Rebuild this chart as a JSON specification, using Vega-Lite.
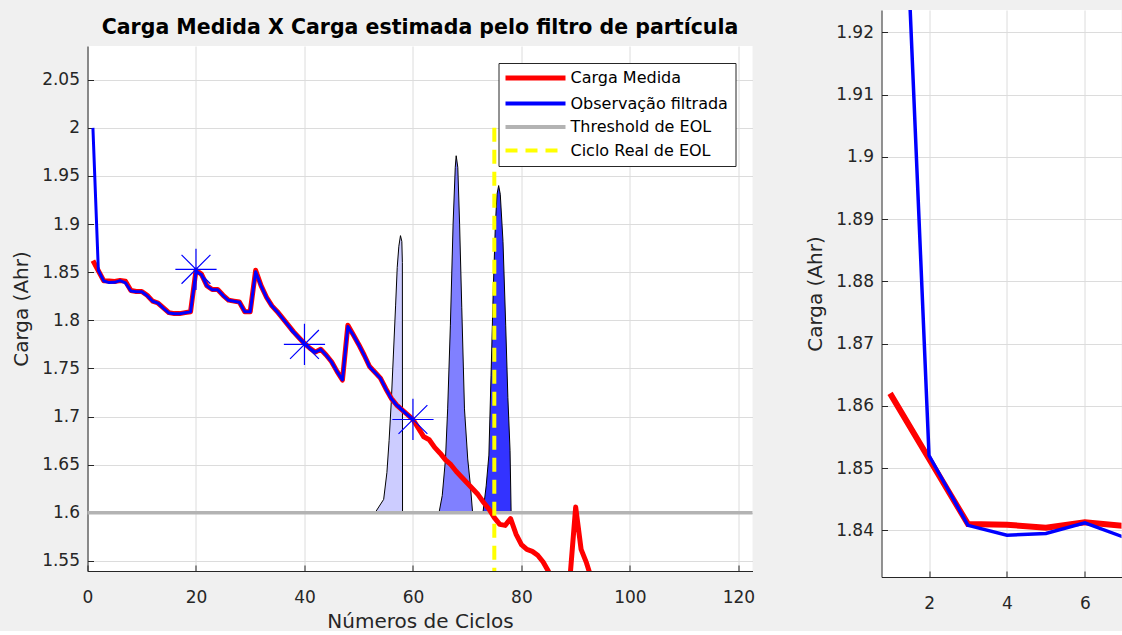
{
  "$schema": "https://vega.github.io/schema/vega-lite/v6.json",
  "background": "#f0f0f0",
  "padding": {"left": 11.5, "top": 10, "right": 0, "bottom": 0},
  "spacing": 50,
  "config": {
    "font": "DejaVu Sans",
    "view": {"fill": "white", "stroke": null},
    "axis": {
      "domainColor": "#262626", "tickColor": "#262626", "gridColor": "#dcdcdc",
      "labelColor": "#262626", "titleColor": "#262626",
      "labelFont": "DejaVu Sans", "titleFont": "DejaVu Sans",
      "labelFontSize": 17, "titleFontSize": 20, "titleFontWeight": "normal",
      "tickSize": -6, "domainWidth": 1, "gridWidth": 1,
      "labelFlush": false, "labelOverlap": false
    },
    "axisX": {"labelPadding": 24, "titlePadding": 6},
    "axisY": {"labelPadding": 14, "titlePadding": 10}
  },
  "datasets": {
    "medida": [
      {"ciclo": 1, "carga": 1.862}, {"ciclo": 2, "carga": 1.8515}, {"ciclo": 3, "carga": 1.841}, {"ciclo": 4, "carga": 1.8409}, {"ciclo": 5, "carga": 1.8404},
      {"ciclo": 6, "carga": 1.8413}, {"ciclo": 7, "carga": 1.8407}, {"ciclo": 8, "carga": 1.831}, {"ciclo": 9, "carga": 1.830}, {"ciclo": 10, "carga": 1.830},
      {"ciclo": 11, "carga": 1.826}, {"ciclo": 12, "carga": 1.820}, {"ciclo": 13, "carga": 1.818}, {"ciclo": 14, "carga": 1.813}, {"ciclo": 15, "carga": 1.808},
      {"ciclo": 16, "carga": 1.807}, {"ciclo": 17, "carga": 1.807}, {"ciclo": 18, "carga": 1.808}, {"ciclo": 19, "carga": 1.809}, {"ciclo": 20, "carga": 1.852},
      {"ciclo": 21, "carga": 1.848}, {"ciclo": 22, "carga": 1.836}, {"ciclo": 23, "carga": 1.832}, {"ciclo": 24, "carga": 1.832}, {"ciclo": 25, "carga": 1.826},
      {"ciclo": 26, "carga": 1.821}, {"ciclo": 27, "carga": 1.820}, {"ciclo": 28, "carga": 1.819}, {"ciclo": 29, "carga": 1.809}, {"ciclo": 30, "carga": 1.809},
      {"ciclo": 31, "carga": 1.852}, {"ciclo": 32, "carga": 1.836}, {"ciclo": 33, "carga": 1.824}, {"ciclo": 34, "carga": 1.815}, {"ciclo": 35, "carga": 1.809},
      {"ciclo": 36, "carga": 1.802}, {"ciclo": 37, "carga": 1.795}, {"ciclo": 38, "carga": 1.788}, {"ciclo": 39, "carga": 1.782}, {"ciclo": 40, "carga": 1.776},
      {"ciclo": 41, "carga": 1.771}, {"ciclo": 42, "carga": 1.767}, {"ciclo": 43, "carga": 1.770}, {"ciclo": 44, "carga": 1.764}, {"ciclo": 45, "carga": 1.757},
      {"ciclo": 46, "carga": 1.747}, {"ciclo": 47, "carga": 1.738}, {"ciclo": 48, "carga": 1.795}, {"ciclo": 49, "carga": 1.785}, {"ciclo": 50, "carga": 1.775},
      {"ciclo": 51, "carga": 1.764}, {"ciclo": 52, "carga": 1.752}, {"ciclo": 53, "carga": 1.746}, {"ciclo": 54, "carga": 1.740}, {"ciclo": 55, "carga": 1.729},
      {"ciclo": 56, "carga": 1.719}, {"ciclo": 57, "carga": 1.712}, {"ciclo": 58, "carga": 1.707}, {"ciclo": 59, "carga": 1.702}, {"ciclo": 60, "carga": 1.697},
      {"ciclo": 61, "carga": 1.688}, {"ciclo": 62, "carga": 1.679}, {"ciclo": 63, "carga": 1.676}, {"ciclo": 64, "carga": 1.668}, {"ciclo": 65, "carga": 1.662},
      {"ciclo": 66, "carga": 1.655}, {"ciclo": 67, "carga": 1.650}, {"ciclo": 68, "carga": 1.643}, {"ciclo": 69, "carga": 1.637}, {"ciclo": 70, "carga": 1.631},
      {"ciclo": 71, "carga": 1.625}, {"ciclo": 72, "carga": 1.619}, {"ciclo": 73, "carga": 1.611}, {"ciclo": 74, "carga": 1.604}, {"ciclo": 75, "carga": 1.595},
      {"ciclo": 76, "carga": 1.588}, {"ciclo": 77, "carga": 1.587}, {"ciclo": 78, "carga": 1.594}, {"ciclo": 79, "carga": 1.578}, {"ciclo": 80, "carga": 1.567},
      {"ciclo": 81, "carga": 1.562}, {"ciclo": 82, "carga": 1.560}, {"ciclo": 83, "carga": 1.556}, {"ciclo": 84, "carga": 1.549}, {"ciclo": 85, "carga": 1.539},
      {"ciclo": 86, "carga": 1.525}, {"ciclo": 87, "carga": 1.510}, {"ciclo": 88, "carga": 1.500}, {"ciclo": 89, "carga": 1.536}, {"ciclo": 90, "carga": 1.606},
      {"ciclo": 91, "carga": 1.562}, {"ciclo": 92, "carga": 1.548}, {"ciclo": 93, "carga": 1.530}
    ],
    "filtrada": [
      {"ciclo": 1, "carga": 2.0}, {"ciclo": 2, "carga": 1.852}, {"ciclo": 3, "carga": 1.8408}, {"ciclo": 4, "carga": 1.8392}, {"ciclo": 5, "carga": 1.8395},
      {"ciclo": 6, "carga": 1.8412}, {"ciclo": 7, "carga": 1.8389}, {"ciclo": 8, "carga": 1.8305}, {"ciclo": 9, "carga": 1.8298}, {"ciclo": 10, "carga": 1.8297},
      {"ciclo": 11, "carga": 1.8255}, {"ciclo": 12, "carga": 1.8198}, {"ciclo": 13, "carga": 1.8178}, {"ciclo": 14, "carga": 1.8125}, {"ciclo": 15, "carga": 1.8077},
      {"ciclo": 16, "carga": 1.8068}, {"ciclo": 17, "carga": 1.8069}, {"ciclo": 18, "carga": 1.8078}, {"ciclo": 19, "carga": 1.8088}, {"ciclo": 20, "carga": 1.8505},
      {"ciclo": 21, "carga": 1.8475}, {"ciclo": 22, "carga": 1.8358}, {"ciclo": 23, "carga": 1.8318}, {"ciclo": 24, "carga": 1.8317}, {"ciclo": 25, "carga": 1.8258},
      {"ciclo": 26, "carga": 1.8208}, {"ciclo": 27, "carga": 1.8198}, {"ciclo": 28, "carga": 1.8188}, {"ciclo": 29, "carga": 1.8088}, {"ciclo": 30, "carga": 1.8089},
      {"ciclo": 31, "carga": 1.8505}, {"ciclo": 32, "carga": 1.8358}, {"ciclo": 33, "carga": 1.8238}, {"ciclo": 34, "carga": 1.8148}, {"ciclo": 35, "carga": 1.8088},
      {"ciclo": 36, "carga": 1.8018}, {"ciclo": 37, "carga": 1.7948}, {"ciclo": 38, "carga": 1.7878}, {"ciclo": 39, "carga": 1.7818}, {"ciclo": 40, "carga": 1.7758},
      {"ciclo": 41, "carga": 1.7708}, {"ciclo": 42, "carga": 1.7668}, {"ciclo": 43, "carga": 1.7698}, {"ciclo": 44, "carga": 1.7638}, {"ciclo": 45, "carga": 1.7568},
      {"ciclo": 46, "carga": 1.7468}, {"ciclo": 47, "carga": 1.7382}, {"ciclo": 48, "carga": 1.7935}, {"ciclo": 49, "carga": 1.7848}, {"ciclo": 50, "carga": 1.7748},
      {"ciclo": 51, "carga": 1.7638}, {"ciclo": 52, "carga": 1.7518}, {"ciclo": 53, "carga": 1.7458}, {"ciclo": 54, "carga": 1.7398}, {"ciclo": 55, "carga": 1.7288},
      {"ciclo": 56, "carga": 1.7188}, {"ciclo": 57, "carga": 1.7118}, {"ciclo": 58, "carga": 1.7068}, {"ciclo": 59, "carga": 1.7018}, {"ciclo": 60, "carga": 1.6968}
    ],
    "pdfs": [
      {"grupo": "p1", "ciclo": 53.0, "carga": 1.6}, {"grupo": "p1", "ciclo": 54.6, "carga": 1.614}, {"grupo": "p1", "ciclo": 55.2, "carga": 1.642},
      {"grupo": "p1", "ciclo": 55.6, "carga": 1.675}, {"grupo": "p1", "ciclo": 56.0, "carga": 1.715}, {"grupo": "p1", "ciclo": 56.4, "carga": 1.765},
      {"grupo": "p1", "ciclo": 56.8, "carga": 1.815}, {"grupo": "p1", "ciclo": 57.1, "carga": 1.855}, {"grupo": "p1", "ciclo": 57.4, "carga": 1.877},
      {"grupo": "p1", "ciclo": 57.7, "carga": 1.888}, {"grupo": "p1", "ciclo": 57.95, "carga": 1.882}, {"grupo": "p1", "ciclo": 58.05, "carga": 1.86},
      {"grupo": "p1", "ciclo": 58.08, "carga": 1.6},
      {"grupo": "p2", "ciclo": 64.8, "carga": 1.6}, {"grupo": "p2", "ciclo": 65.4, "carga": 1.618}, {"grupo": "p2", "ciclo": 66.0, "carga": 1.656},
      {"grupo": "p2", "ciclo": 66.4, "carga": 1.708}, {"grupo": "p2", "ciclo": 66.9, "carga": 1.795}, {"grupo": "p2", "ciclo": 67.4, "carga": 1.9},
      {"grupo": "p2", "ciclo": 67.8, "carga": 1.959}, {"grupo": "p2", "ciclo": 67.97, "carga": 1.971}, {"grupo": "p2", "ciclo": 68.27, "carga": 1.959},
      {"grupo": "p2", "ciclo": 68.6, "carga": 1.9}, {"grupo": "p2", "ciclo": 69.0, "carga": 1.813}, {"grupo": "p2", "ciclo": 69.5, "carga": 1.708},
      {"grupo": "p2", "ciclo": 70.1, "carga": 1.656}, {"grupo": "p2", "ciclo": 70.6, "carga": 1.628}, {"grupo": "p2", "ciclo": 71.0, "carga": 1.6},
      {"grupo": "p3", "ciclo": 72.9, "carga": 1.6}, {"grupo": "p3", "ciclo": 73.5, "carga": 1.628}, {"grupo": "p3", "ciclo": 74.0, "carga": 1.66},
      {"grupo": "p3", "ciclo": 74.4, "carga": 1.743}, {"grupo": "p3", "ciclo": 74.8, "carga": 1.83}, {"grupo": "p3", "ciclo": 75.2, "carga": 1.9},
      {"grupo": "p3", "ciclo": 75.5, "carga": 1.931}, {"grupo": "p3", "ciclo": 75.8, "carga": 1.94}, {"grupo": "p3", "ciclo": 76.1, "carga": 1.931},
      {"grupo": "p3", "ciclo": 76.6, "carga": 1.882}, {"grupo": "p3", "ciclo": 77.1, "carga": 1.795}, {"grupo": "p3", "ciclo": 77.5, "carga": 1.72},
      {"grupo": "p3", "ciclo": 77.9, "carga": 1.665}, {"grupo": "p3", "ciclo": 78.1, "carga": 1.6}
    ],
    "marcas": [
      {"ciclo": 20, "carga": 1.853}, {"ciclo": 40, "carga": 1.775}, {"ciclo": 60, "carga": 1.697}
    ],
    "limiar": [{"carga": 1.6}],
    "eol": [{"ciclo": 75, "topo": 2.0, "base": 1.5}],
    "vazio": []
  },
  "resolve": {"scale": {"color": "independent", "fill": "independent"}, "legend": {"color": "independent", "fill": "independent"}},
  "hconcat": [
    {
      "spacing": 6,
      "resolve": {"scale": {"color": "independent", "fill": "independent"}, "legend": {"color": "independent", "fill": "independent"}},
      "vconcat": [
        {
          "width": 665,
          "height": 1,
          "view": {"fill": "#f0f0f0", "stroke": null},
          "data": {"name": "vazio"},
          "mark": {"type": "point", "opacity": 0},
          "encoding": {}
        },
        {
          "width": 665,
          "height": 525,
          "title": {"text": "Carga Medida X Carga estimada pelo filtro de partícula", "fontSize": 20.5, "fontWeight": "bold", "color": "#000000", "font": "DejaVu Sans", "anchor": "middle", "offset": 8},
          "encoding": {
            "x": {"type": "quantitative", "scale": {"domain": [0, 122.6], "nice": false, "zero": false},
                  "axis": {"title": "Números de Ciclos", "values": [0, 20, 40, 60, 80, 100, 120], "format": "d"}},
            "y": {"type": "quantitative", "scale": {"domain": [1.5396, 2.085], "nice": false, "zero": false},
                  "axis": {"title": "Carga (Ahr)", "values": [1.55, 1.6, 1.65, 1.7, 1.75, 1.8, 1.85, 1.9, 1.95, 2.0, 2.05], "format": ".3~g"}}
          },
          "layer": [
            {
              "data": {"name": "pdfs"},
              "mark": {"type": "area", "stroke": "#000000", "strokeWidth": 1, "clip": true, "fillOpacity": 1},
              "encoding": {
                "x": {"field": "ciclo", "type": "quantitative"},
                "y": {"field": "carga", "type": "quantitative"},
                "y2": {"datum": 1.6},
                "fill": {"field": "grupo", "type": "nominal", "scale": {"domain": ["p1", "p2", "p3"], "range": ["#ccccff", "#8080ff", "#3333ff"]}, "legend": null}
              }
            },
            {
              "data": {"name": "limiar"},
              "mark": {"type": "rule", "strokeWidth": 3.5},
              "encoding": {
                "y": {"field": "carga", "type": "quantitative"},
                "color": {"datum": "Threshold de EOL"}
              }
            },
            {
              "data": {"name": "medida"},
              "mark": {"type": "line", "strokeWidth": 5, "clip": true, "strokeJoin": "round"},
              "encoding": {
                "x": {"field": "ciclo", "type": "quantitative"},
                "y": {"field": "carga", "type": "quantitative"},
                "color": {
                  "datum": "Carga Medida",
                  "scale": {"domain": ["Carga Medida", "Observação filtrada", "Threshold de EOL", "Ciclo Real de EOL"], "range": ["#ff0000", "#0000ff", "#b3b3b3", "#ffff00"]},
                  "legend": {
                    "title": null, "orient": "top-right", "offset": 17,
                    "symbolType": "stroke", "symbolSize": 3600, "symbolStrokeWidth": 4, "symbolOffset": 22,
                    "labelFontSize": 16, "labelColor": "#000000", "labelFont": "DejaVu Sans", "labelLimit": 300,
                    "strokeColor": "#262626", "fillColor": "#ffffff", "padding": 7, "rowPadding": 7.5, "labelOffset": 27,
                    "encode": {"symbols": {"update": {
                      "strokeDash": {"signal": "datum.value === 'Ciclo Real de EOL' ? [12, 8] : [1, 0]"},
                      "strokeWidth": {"signal": "datum.value === 'Carga Medida' ? 5 : 4"}
                    }}}
                  }
                }
              }
            },
            {
              "data": {"name": "filtrada"},
              "mark": {"type": "line", "strokeWidth": 3, "clip": true, "strokeJoin": "round"},
              "encoding": {
                "x": {"field": "ciclo", "type": "quantitative"},
                "y": {"field": "carga", "type": "quantitative"},
                "color": {"datum": "Observação filtrada"}
              }
            },
            {
              "data": {"name": "marcas"},
              "mark": {"type": "point", "shape": "M-1,0L1,0M0,-1L0,1M-0.7,-0.7L0.7,0.7M-0.7,0.7L0.7,-0.7", "size": 1700, "filled": false, "color": "#0000ff", "strokeWidth": 1.2, "opacity": 1},
              "encoding": {
                "x": {"field": "ciclo", "type": "quantitative"},
                "y": {"field": "carga", "type": "quantitative"}
              }
            },
            {
              "data": {"name": "eol"},
              "mark": {"type": "rule", "strokeWidth": 4, "strokeDash": [14, 8], "clip": true},
              "encoding": {
                "x": {"field": "ciclo", "type": "quantitative"},
                "y": {"field": "topo", "type": "quantitative"},
                "y2": {"field": "base"},
                "color": {"datum": "Ciclo Real de EOL"}
              }
            }
          ]
        }
      ]
    },
    {
      "width": 240,
      "height": 567,
      "encoding": {
        "x": {"field": "ciclo", "type": "quantitative", "scale": {"domain": [0.78, 6.94], "nice": false, "zero": false},
              "axis": {"title": null, "values": [2, 4, 6], "format": "d"}},
        "y": {"field": "carga", "type": "quantitative", "scale": {"domain": [1.8325, 1.9236], "nice": false, "zero": false},
              "axis": {"title": "Carga (Ahr)", "values": [1.84, 1.85, 1.86, 1.87, 1.88, 1.89, 1.9, 1.91, 1.92], "format": ".3~g"}}
      },
      "layer": [
        {
          "data": {"name": "medida"},
          "mark": {"type": "line", "strokeWidth": 6, "clip": true, "color": "#ff0000"},
          "encoding": {}
        },
        {
          "data": {"name": "filtrada"},
          "mark": {"type": "line", "strokeWidth": 3.5, "clip": true, "color": "#0000ff"},
          "encoding": {}
        }
      ]
    }
  ]
}
